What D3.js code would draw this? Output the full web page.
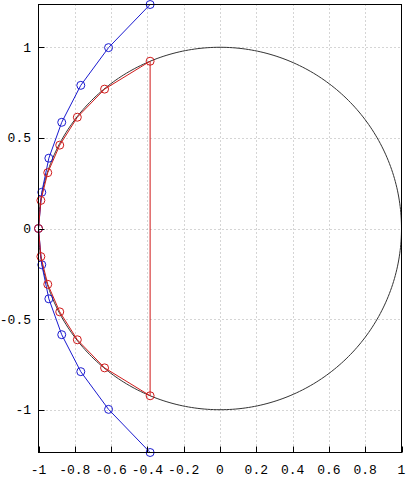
<!DOCTYPE html>
<html><head><meta charset="utf-8">
<script src="https://cdn.jsdelivr.net/npm/d3@7"></script>
<style>body{margin:0;background:#fff}svg{display:block}text{font-family:"Liberation Mono","DejaVu Sans Mono",monospace;font-size:13px;fill:#000}</style>
</head><body>
<script>
const xTicks = [-1,-0.8,-0.6,-0.4,-0.2,0,0.2,0.4,0.6,0.8,1];
const xTickLabels = ["-1","-0.8","-0.6","-0.4","-0.2","0","0.2","0.4","0.6","0.8","1"];
const yTicks = [-1,-0.5,0,0.5,1];
const yTickLabels = ["-1","-0.5","0","0.5","1"];
const redX = [-0.385,-0.636,-0.786,-0.883,-0.949,-0.987,-1,-0.987,-0.949,-0.883,-0.786,-0.636,-0.385];
const redY = [0.923,0.769,0.614,0.460,0.308,0.155,0,-0.155,-0.308,-0.460,-0.614,-0.769,-0.923];
const blueX = [-0.385,-0.614,-0.767,-0.872,-0.943,-0.982,-1,-0.982,-0.943,-0.872,-0.767,-0.614,-0.385];
const blueY = [1.236,0.998,0.790,0.586,0.388,0.200,0,-0.200,-0.388,-0.586,-0.790,-0.998,-1.236];

const W=406,H=478, L=38.5, R=401.5, T=4.5, B=452.5;
const svg=d3.select("body").append("svg").attr("width",W).attr("height",H);
const x=d3.scaleLinear().domain([-1,1]).range([L,R]);
const y=d3.scaleLinear().domain([-1.236,1.236]).range([B,T]);

// grid
const g=svg.append("g");
g.selectAll("line.gx").data(xTicks.slice(1,-1)).join("line")
 .attr("x1",d=>Math.round(x(d))+0.5).attr("x2",d=>Math.round(x(d))+0.5).attr("y1",T).attr("y2",B)
 .attr("stroke","#aaa").attr("stroke-width",1).attr("stroke-dasharray","1,3");
g.selectAll("line.gy").data(yTicks).join("line")
 .attr("y1",d=>Math.round(y(d))+0.5).attr("y2",d=>Math.round(y(d))+0.5).attr("x1",L).attr("x2",R)
 .attr("stroke","#aaa").attr("stroke-width",1).attr("stroke-dasharray","1,3");

// unit circle
const ang=d3.range(0,361,1).map(a=>a*Math.PI/180);
svg.append("path").datum(ang)
 .attr("d",d3.line().x(a=>x(Math.cos(a))).y(a=>y(Math.sin(a))))
 .attr("fill","none").attr("stroke","#333").attr("stroke-width",1);

// blue
const blue=blueX.map((v,i)=>[v,blueY[i]]);
svg.append("path").datum(blue).attr("d",d3.line().x(d=>x(d[0])).y(d=>y(d[1])))
 .attr("fill","none").attr("stroke","#1a1ad0").attr("stroke-width",1);
svg.selectAll("circle.b").data(blue).join("circle")
 .attr("cx",d=>x(d[0])).attr("cy",d=>y(d[1])).attr("r",4)
 .attr("fill","none").attr("stroke","#1a1ad0").attr("stroke-width",1);

// red closed polygon
const red=redX.map((v,i)=>[v,redY[i]]);
svg.append("path").datum(red).attr("d",d3.line().x(d=>x(d[0])).y(d=>y(d[1]))(red)+"Z")
 .attr("fill","none").attr("stroke","#d01a1a").attr("stroke-width",1);
svg.selectAll("circle.r").data(red).join("circle")
 .attr("cx",d=>x(d[0])).attr("cy",d=>y(d[1])).attr("r",4)
 .attr("fill","none").attr("stroke","#d01a1a").attr("stroke-width",1);

// frame
svg.append("rect").attr("x",L).attr("y",T).attr("width",R-L).attr("height",B-T)
 .attr("fill","none").attr("stroke","#000").attr("stroke-width",1);

// ticks inward
svg.selectAll("line.tx").data(xTicks).join("line")
 .attr("x1",d=>Math.round(x(d))+0.5).attr("x2",d=>Math.round(x(d))+0.5).attr("y1",B).attr("y2",B-6)
 .attr("stroke","#000");
svg.selectAll("line.ty").data(yTicks).join("line")
 .attr("y1",d=>Math.round(y(d))+0.5).attr("y2",d=>Math.round(y(d))+0.5).attr("x1",L).attr("x2",L+6)
 .attr("stroke","#000");

svg.selectAll("text.xl").data(xTicks).join("text")
 .attr("x",d=>x(d)).attr("y",474).attr("text-anchor","middle")
 .text((d,i)=>xTickLabels[i]);
svg.selectAll("text.yl").data(yTicks).join("text")
 .attr("x",31).attr("y",d=>y(d)+4.5).attr("text-anchor","end")
 .text((d,i)=>yTickLabels[i]);
</script>
</body></html>
